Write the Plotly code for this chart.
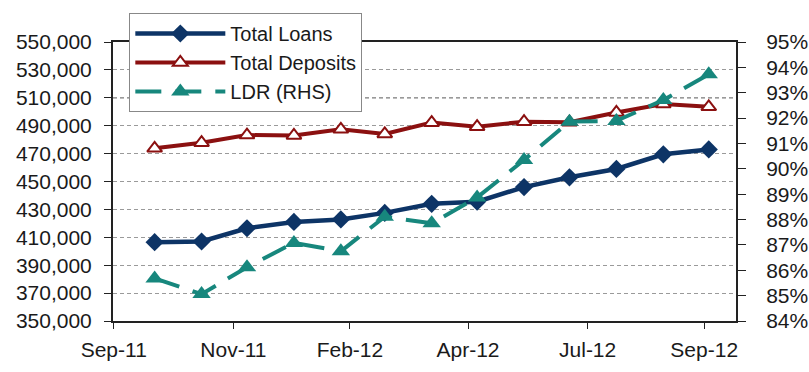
import plotly.graph_objects as go

# ---- data ----
months = ["2011-09-30", "2011-10-31", "2011-11-30", "2011-12-31", "2012-01-31",
          "2012-02-29", "2012-03-31", "2012-04-30", "2012-05-31", "2012-06-30",
          "2012-07-31", "2012-08-31", "2012-09-30"]
total_loans = [406500, 407000, 416500, 421000, 422800, 427500, 434000,
               435500, 446000, 453000, 459000, 469500, 473000]
total_deposits = [473800, 477800, 483300, 483000, 487400, 484100, 492200,
                  489300, 492900, 492500, 499500, 505500, 503500]
ldr_pct = [85.68, 85.06, 86.12, 87.08, 86.75, 88.11, 87.85,
           88.87, 90.35, 91.86, 91.89, 92.71, 93.73]

x_tick_dates = ["2011-09-03", "2011-11-21", "2012-02-06", "2012-04-24",
                "2012-07-12", "2012-09-27"]
x_tick_labels = ["Sep-11", "Nov-11", "Feb-12", "Apr-12", "Jul-12", "Sep-12"]

FONT = "Liberation Sans, Arial, sans-serif"
NAVY = "#0d3466"
RED = "#8b1010"
TEAL = "#17877d"
TXT = "#1a1a1a"

fig = go.Figure()
fig.add_trace(go.Scatter(
    x=months, y=total_loans, name="Total Loans", mode="lines+markers",
    line=dict(color=NAVY, width=4.5),
    marker=dict(symbol="diamond", size=14, color=NAVY)))
fig.add_trace(go.Scatter(
    x=months, y=total_deposits, name="Total Deposits", mode="lines+markers",
    line=dict(color=RED, width=4),
    marker=dict(symbol="triangle-up", size=13, color="white",
                line=dict(color=RED, width=2))))
fig.add_trace(go.Scatter(
    x=months, y=ldr_pct, name="LDR (RHS)", mode="lines+markers", yaxis="y2",
    line=dict(color=TEAL, width=4, dash="26px,14px"),
    marker=dict(symbol="triangle-up", size=16, color=TEAL)))

fig.add_shape(type="line", xref="paper", x0=0, x1=1, yref="y",
              y0=510000, y1=510000, layer="below",
              line=dict(color="#222222", width=1, dash="4px,3px"))

fig.update_layout(
    width=809, height=372,
    margin=dict(l=113, r=73, t=42, b=51),
    paper_bgcolor="white", plot_bgcolor="white",
    font=dict(family=FONT, size=21, color=TXT),
    showlegend=True,
    legend=dict(x=0.0262, y=1.1039, xanchor="left", yanchor="top",
                bgcolor="white", bordercolor="#888888", borderwidth=1,
                itemwidth=90, font=dict(family=FONT, size=20, color=TXT)),
    xaxis=dict(type="date", range=["2011-09-02 12:00", "2012-10-18"],
               tickvals=x_tick_dates, ticktext=x_tick_labels,
               showgrid=False, showline=True, linecolor="#222222", linewidth=2,
               mirror=True, ticks="outside", ticklen=6, tickcolor="#222222",
               ticklabelstandoff=3, zeroline=False, automargin=False),
    yaxis=dict(range=[350000, 550000], tick0=350000, dtick=20000, tickformat=",",
               showgrid=True, gridcolor="#9a9a9a", gridwidth=1, griddash="4px,3px",
               showline=True, linecolor="#222222", linewidth=2,
               ticks="outside", ticklen=7, tickcolor="#222222",
               ticklabelstandoff=8, zeroline=False, automargin=False),
    yaxis2=dict(range=[84, 95], tick0=84, dtick=1, ticksuffix="%", overlaying="y",
                side="right", showgrid=False, showline=True,
                linecolor="#222222", linewidth=2,
                ticks="outside", ticklen=8, tickcolor="#222222",
                ticklabelstandoff=16, zeroline=False, automargin=False),
)

# remove the default 8px page margin so the figure sits at the window origin
page_js = "document.body.style.margin='0px';"

fig.write_html("out.html", post_script=page_js,
               config={"displayModeBar": False})
